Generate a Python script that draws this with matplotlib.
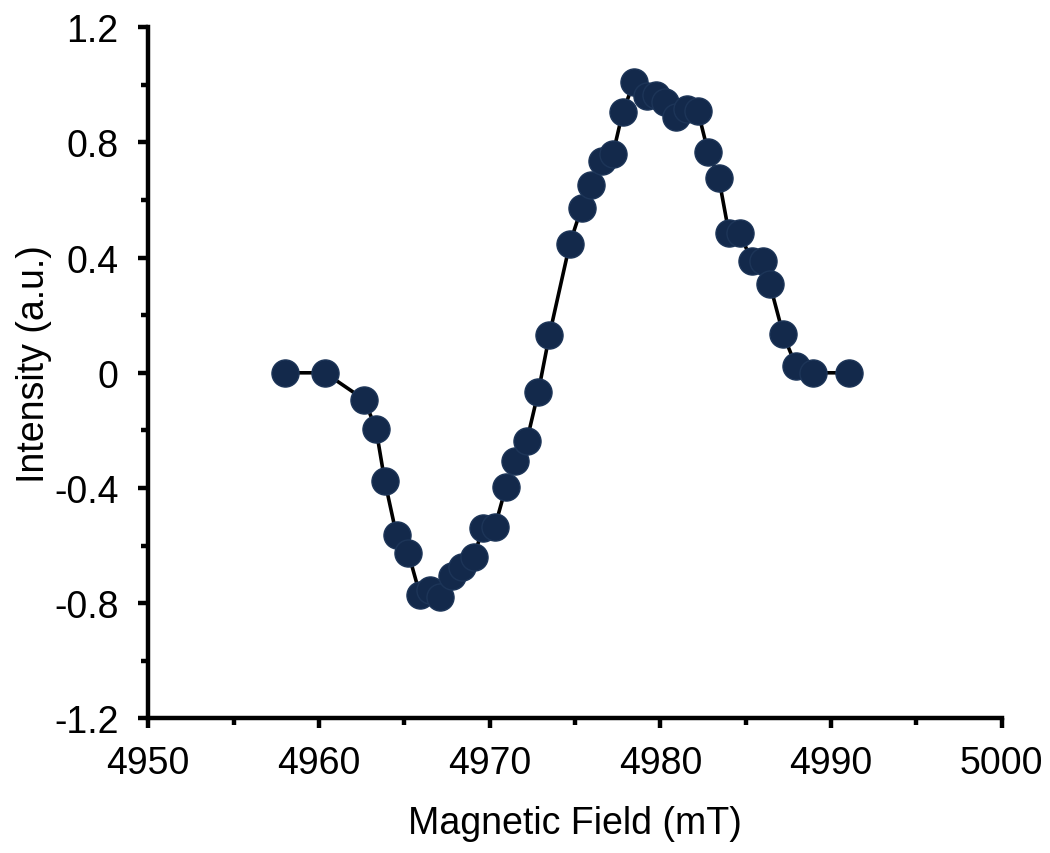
import matplotlib
matplotlib.use("Agg")
import matplotlib.pyplot as plt
from matplotlib.ticker import MultipleLocator

# EPR-style derivative spectrum
field_mT = [4958.0, 4960.35, 4962.65, 4963.34, 4963.86, 4964.55, 4965.23,
            4965.92, 4966.50, 4967.09, 4967.77, 4968.36, 4969.08, 4969.61,
            4970.31, 4970.95, 4971.48, 4972.17, 4972.85, 4973.50, 4974.70,
            4975.39, 4975.92, 4976.56, 4977.22, 4977.79, 4978.45, 4979.20,
            4979.75, 4980.30, 4980.90, 4981.55, 4982.20, 4982.80, 4983.42,
            4984.02, 4984.66, 4985.35, 4986.03, 4986.42, 4987.20, 4987.94,
            4988.96, 4991.07]
intensity = [0.0, 0.0, -0.093, -0.194, -0.377, -0.565, -0.625,
             -0.771, -0.754, -0.778, -0.707, -0.673, -0.638, -0.538,
             -0.534, -0.398, -0.307, -0.238, -0.067, 0.131, 0.449,
             0.574, 0.651, 0.736, 0.759, 0.904, 1.009, 0.962,
             0.965, 0.940, 0.888, 0.916, 0.909, 0.767, 0.678,
             0.485, 0.485, 0.388, 0.388, 0.307, 0.133, 0.025,
             0.0, 0.0]

x_ticks = [4950, 4960, 4970, 4980, 4990, 5000]
y_ticks = [-1.2, -0.8, -0.4, 0.0, 0.4, 0.8, 1.2]
y_ticklabels = ["-1.2", "-0.8", "-0.4", "0", "0.4", "0.8", "1.2"]

plt.rcParams["font.family"] = ["Liberation Sans", "DejaVu Sans"]

fig = plt.figure(figsize=(10.5, 8.54), dpi=100)
ax = fig.add_axes([0.1412, 0.1577, 0.8128, 0.8092])

ax.plot(field_mT, intensity, "-", color="black", lw=2.6, zorder=2)
ax.plot(field_mT, intensity, "o", ms=19.5, color="#13294B",
        mec="#1d3558", mew=1.0, zorder=3)

ax.set_xlim(4950, 5000)
ax.set_ylim(-1.2, 1.2)
ax.set_xticks(x_ticks)
ax.set_yticks(y_ticks)
ax.set_yticklabels(y_ticklabels)
ax.xaxis.set_minor_locator(MultipleLocator(5))
ax.yaxis.set_minor_locator(MultipleLocator(0.2))

for side in ("top", "right"):
    ax.spines[side].set_visible(False)
for side in ("left", "bottom"):
    ax.spines[side].set_linewidth(3.2)
    ax.spines[side].set_zorder(1)

ax.tick_params(which="major", direction="out", length=7.5, width=3.2,
               labelsize=27, color="black")
ax.tick_params(which="minor", direction="out", length=5, width=3.2)
ax.tick_params(axis="y", which="major", pad=14)
ax.tick_params(axis="x", which="major", pad=12)

ax.set_xlabel("Magnetic Field (mT)", fontsize=27, labelpad=17)
ax.set_ylabel("Intensity (a.u.)", fontsize=27)
ax.yaxis.set_label_coords(-0.113, 0.514)

fig.savefig("out.png", dpi=100)
